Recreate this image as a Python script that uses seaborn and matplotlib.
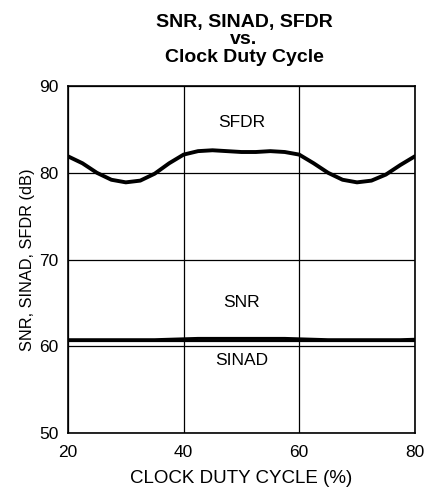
import matplotlib
matplotlib.use("Agg")
import matplotlib.pyplot as plt
import seaborn as sns
import pandas as pd

# values
duty = [20, 22.5, 25, 27.5, 30, 32.5, 35, 37.5, 40, 42.5, 45, 47.5, 50,
        52.5, 55, 57.5, 60, 62.5, 65, 67.5, 70, 72.5, 75, 77.5, 80]
sfdr = [81.9, 81.1, 80.0, 79.2, 78.9, 79.1, 79.9, 81.1, 82.1, 82.5, 82.6, 82.5, 82.4,
        82.4, 82.5, 82.4, 82.1, 81.1, 80.0, 79.2, 78.9, 79.1, 79.8, 80.9, 81.9]
snr = [60.75, 60.75, 60.75, 60.75, 60.75, 60.75, 60.75, 60.8, 60.85, 60.9, 60.9, 60.9, 60.9,
       60.9, 60.9, 60.9, 60.85, 60.8, 60.75, 60.75, 60.75, 60.75, 60.75, 60.75, 60.8]
sinad = [60.55] * len(duty)

sns.set_style("white")
plt.rcParams['font.family'] = ['Liberation Sans', 'DejaVu Sans']
plt.rcParams['text.color'] = 'black'
plt.rcParams['axes.labelcolor'] = 'black'
plt.rcParams['xtick.color'] = 'black'
plt.rcParams['ytick.color'] = 'black'

df = pd.DataFrame({'duty': duty * 3,
                   'val': sfdr + snr + sinad,
                   'kind': ['SFDR'] * len(duty) + ['SNR'] * len(duty) + ['SINAD'] * len(duty)})

fig = plt.figure(figsize=(4.25, 4.92), dpi=100)
ax = fig.add_axes([0.16, 0.12, 0.816, 0.705])

ax.grid(True, color='black', linewidth=0.9)
ax.set_axisbelow(True)

sns.lineplot(data=df[df.kind == 'SFDR'], x='duty', y='val', color='black', linewidth=2.8, ax=ax)
sns.lineplot(data=df[df.kind == 'SNR'], x='duty', y='val', color='black', linewidth=2.2, ax=ax)
sns.lineplot(data=df[df.kind == 'SINAD'], x='duty', y='val', color='black', linewidth=1.6, ax=ax)

ax.set_xlim(20, 80)
ax.set_ylim(50, 90)
ax.set_xticks([20, 40, 60, 80])
ax.set_yticks([50, 60, 70, 80, 90])
ax.tick_params(axis='x', length=0, labelsize=12.5, pad=9)
ax.tick_params(axis='y', length=0, labelsize=12.5, pad=7)
for s in ax.spines.values():
    s.set_color('black')
    s.set_linewidth(1.2)

ax.text(50, 85.8, 'SFDR', ha='center', va='center', fontsize=12.5)
ax.text(50, 65.0, 'SNR', ha='center', va='center', fontsize=12.5)
ax.text(50, 58.3, 'SINAD', ha='center', va='center', fontsize=12.5)

ax.set_xlabel('CLOCK DUTY CYCLE (%)', fontsize=13.5, labelpad=7)
ax.set_ylabel('SNR, SINAD, SFDR (dB)', fontsize=11.8, labelpad=3)

# three-line bold title, placed line by line
fig.text(0.574, 1 - 22 / 492, 'SNR, SINAD, SFDR', ha='center', va='center', fontsize=14, fontweight='bold')
fig.text(0.574, 1 - 40 / 492, 'vs.', ha='center', va='center', fontsize=14, fontweight='bold')
fig.text(0.574, 1 - 58 / 492, 'Clock Duty Cycle', ha='center', va='center', fontsize=14, fontweight='bold')

fig.savefig('out.png', dpi=100)
